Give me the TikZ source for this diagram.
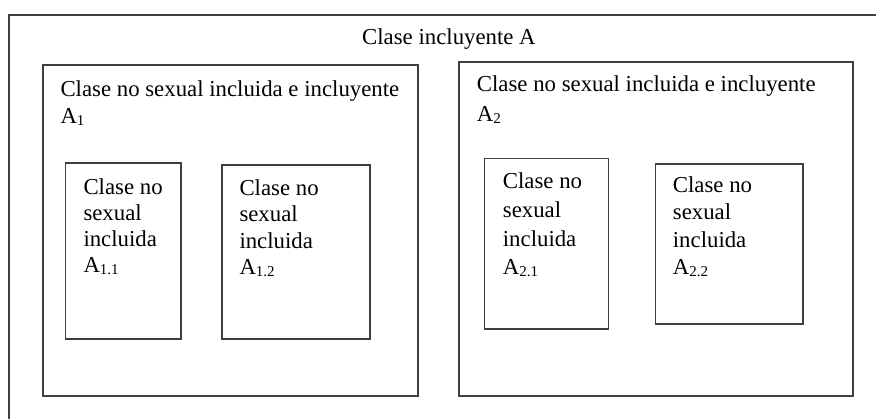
\documentclass[tikz,border=0pt]{standalone}
\usepackage{fontspec}
\setmainfont{Liberation Serif}
\newcommand\subsc[1]{\raisebox{-1.8pt}{\fontsize{15}{15}\selectfont #1}}
\tikzset{
  frame/.style={draw=black!75, line width=1.1pt},
  box/.style={frame, anchor=north west, inner sep=0pt, outer sep=0pt},
  lbl/.style={anchor=base west, inner sep=0pt, align=left, font=\fontsize{22.8}{27}\selectfont},
}
\begin{document}
\begin{tikzpicture}[x=1pt,y=-1pt]
\useasboundingbox (0,0) rectangle (876,419);
% outer class (open to the right and bottom)
\coordinate (ob) at (9,425);
\coordinate (ot) at (9,15);
\coordinate (or) at (880,15);
\draw[frame] (ob) -- (ot) -- (or);
\node[lbl] (tA) at (362,45) {Clase incluyente A};
% A1
\node[box, minimum width=375pt, minimum height=331pt] (A1) at (43,65) {};
\node[lbl, font=\fontsize{22.8}{26.6}\selectfont] (tA1) at (60.3,123.3) {Clase no sexual incluida e incluyente\\A\subsc{1}};
\node[box, minimum width=115.5pt, minimum height=176pt] (A11) at (65.5,163) {};
\node[lbl, font=\fontsize{22.8}{26.1}\selectfont] (tA11) at (83.3,272.7) {Clase no\\sexual\\incluida\\A\subsc{1.1}};
\node[box, minimum width=148pt, minimum height=174pt] (A12) at (222,165) {};
\node[lbl, font=\fontsize{22.8}{26.6}\selectfont] (tA12) at (239.3,275) {Clase no\\sexual\\incluida\\A\subsc{1.2}};
% A2
\node[box, minimum width=394pt, minimum height=334pt] (A2) at (459,62) {};
\node[lbl, font=\fontsize{22.8}{30}\selectfont] (tA2) at (476.7,121.7) {Clase no sexual incluida e incluyente\\A\subsc{2}};
\node[box, minimum width=124pt, minimum height=170.5pt] (A21) at (484.5,158.5) {};
\node[lbl, font=\fontsize{22.8}{28.9}\selectfont] (tA21) at (502.7,275) {Clase no\\sexual\\incluida\\A\subsc{2.1}};
\node[box, minimum width=147.5pt, minimum height=160pt] (A22) at (655.5,164) {};
\node[lbl, font=\fontsize{22.8}{27.2}\selectfont] (tA22) at (672.7,274.3) {Clase no\\sexual\\incluida\\A\subsc{2.2}};
\end{tikzpicture}
\end{document}
